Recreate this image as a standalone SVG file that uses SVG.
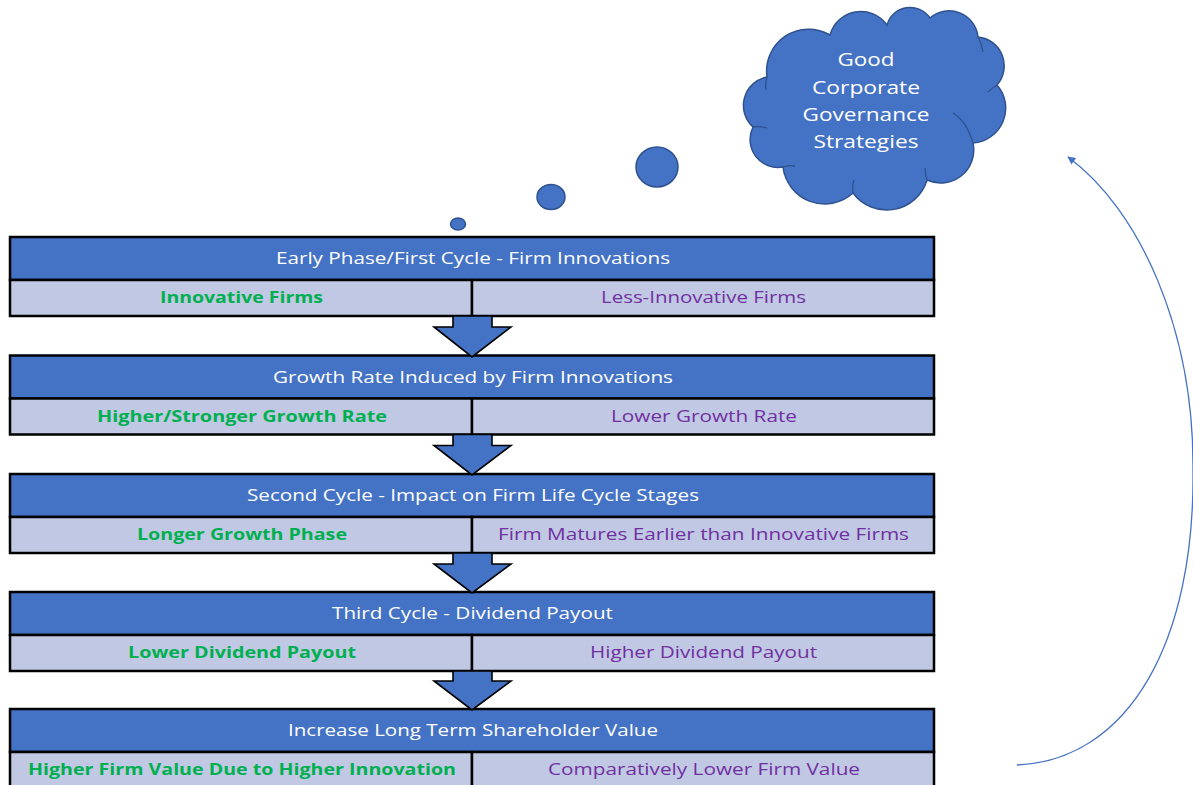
<svg xmlns="http://www.w3.org/2000/svg" width="1193" height="785" viewBox="0 0 1193 785">
  <style>
    .hdr { fill: #4472C4; stroke: #000; stroke-width: 2.5; }
    .row { fill: #C0C8E4; stroke: #000; stroke-width: 2.5; }
    text { font-family: "Open Sans", "Noto Sans", sans-serif; text-anchor: middle; }
    .ht { font-size: 17px; fill: #FFFFFF; }
    .lt { font-size: 16.5px; font-weight: bold; fill: #00B050; }
    .rt { font-size: 16.5px; fill: #7030A0; }
    .down { fill: #4472C4; stroke: #000; stroke-width: 1.6; stroke-linejoin: miter; }
    .bub { fill: #4472C4; stroke: #2F528F; stroke-width: 1.5; }
    .ct { font-size: 18.5px; fill: #FFFFFF; }
    .loop { fill: none; stroke: #4472C4; stroke-width: 1.3; }
  </style>
  <defs>
    <marker id="tip" viewBox="0 0 10 10" refX="9" refY="5" markerWidth="10" markerHeight="8" markerUnits="userSpaceOnUse" orient="auto">
      <path d="M0,0 L10,5 L0,10 z" fill="#4472C4"/>
    </marker>
  </defs>

  <!-- thought cloud and its trailing bubbles -->
  <g id="cloud">
    <path class="bub" d="M767,77 A42,42 0 0 1 830,35 A32,32 0 0 1 887,25 A24,24 0 0 1 930,18 A29,29 0 0 1 978,37 A29,29 0 0 1 997,85 A35,35 0 0 1 973,143 A33,33 0 0 1 927,180 A42,42 0 0 1 853,193 A42,42 0 0 1 783,167 A28,28 0 0 1 753,127 A29,29 0 0 1 767,77 Z"/>
    <path fill="none" stroke="#2F528F" stroke-width="1.3" d="M767,77 Q765,83 766,90 M978,37 Q982,44 983,52 M997,85 Q992,88 988,92 M953,113 Q967,122 973,143 M927,180 Q925,174 925,168 M853,193 Q852,186 854,180 M783,167 Q789,165 795,166 M753,127 Q760,126 767,128"/>
    <text class="ct" x="866" y="66" textLength="57" lengthAdjust="spacingAndGlyphs">Good</text>
    <text class="ct" x="866" y="94" textLength="108" lengthAdjust="spacingAndGlyphs">Corporate</text>
    <text class="ct" x="866" y="121" textLength="127" lengthAdjust="spacingAndGlyphs">Governance</text>
    <text class="ct" x="866" y="148" textLength="105" lengthAdjust="spacingAndGlyphs">Strategies</text>
  </g>
  <g id="bubbles">
    <ellipse class="bub" cx="657" cy="167" rx="21" ry="20"/>
    <ellipse class="bub" cx="551" cy="197" rx="14" ry="12.5"/>
    <ellipse class="bub" cx="458" cy="224" rx="7.5" ry="6"/>
  </g>

  <!-- stage 1 -->
  <g id="stage1">
    <rect class="hdr" x="10" y="237" width="924" height="43"/>
    <rect class="row" x="10" y="280" width="462" height="36"/>
    <rect class="row" x="472" y="280" width="462" height="36"/>
    <text class="ht" x="473" y="264" textLength="394" lengthAdjust="spacingAndGlyphs">Early Phase/First Cycle - Firm Innovations</text>
    <text class="lt" x="241.5" y="303" textLength="163" lengthAdjust="spacingAndGlyphs">Innovative Firms</text>
    <text class="rt" x="703.5" y="303" textLength="205" lengthAdjust="spacingAndGlyphs">Less-Innovative Firms</text>
  </g>

  <!-- stage 2 -->
  <g id="stage2">
    <rect class="hdr" x="10" y="355.5" width="924" height="43"/>
    <rect class="row" x="10" y="398.5" width="462" height="36"/>
    <rect class="row" x="472" y="398.5" width="462" height="36"/>
    <text class="ht" x="473" y="382.5" textLength="400" lengthAdjust="spacingAndGlyphs">Growth Rate Induced by Firm Innovations</text>
    <text class="lt" x="242" y="421.5" textLength="290" lengthAdjust="spacingAndGlyphs">Higher/Stronger Growth Rate</text>
    <text class="rt" x="704" y="421.5" textLength="186" lengthAdjust="spacingAndGlyphs">Lower Growth Rate</text>
  </g>

  <!-- stage 3 -->
  <g id="stage3">
    <rect class="hdr" x="10" y="474" width="924" height="43"/>
    <rect class="row" x="10" y="517" width="462" height="36"/>
    <rect class="row" x="472" y="517" width="462" height="36"/>
    <text class="ht" x="473" y="501" textLength="452" lengthAdjust="spacingAndGlyphs">Second Cycle - Impact on Firm Life Cycle Stages</text>
    <text class="lt" x="242" y="540" textLength="210" lengthAdjust="spacingAndGlyphs">Longer Growth Phase</text>
    <text class="rt" x="703.5" y="540" textLength="411" lengthAdjust="spacingAndGlyphs">Firm Matures Earlier than Innovative Firms</text>
  </g>

  <!-- stage 4 -->
  <g id="stage4">
    <rect class="hdr" x="10" y="592" width="924" height="43"/>
    <rect class="row" x="10" y="635" width="462" height="36"/>
    <rect class="row" x="472" y="635" width="462" height="36"/>
    <text class="ht" x="472.5" y="619" textLength="281" lengthAdjust="spacingAndGlyphs">Third Cycle - Dividend Payout</text>
    <text class="lt" x="242" y="658" textLength="228" lengthAdjust="spacingAndGlyphs">Lower Dividend Payout</text>
    <text class="rt" x="703.5" y="658" textLength="227" lengthAdjust="spacingAndGlyphs">Higher Dividend Payout</text>
  </g>

  <!-- stage 5 -->
  <g id="stage5">
    <rect class="hdr" x="10" y="709" width="924" height="43"/>
    <rect class="row" x="10" y="752" width="462" height="36"/>
    <rect class="row" x="472" y="752" width="462" height="36"/>
    <text class="ht" x="473" y="736" textLength="370" lengthAdjust="spacingAndGlyphs">Increase Long Term Shareholder Value</text>
    <text class="lt" x="242" y="775" textLength="428" lengthAdjust="spacingAndGlyphs">Higher Firm Value Due to Higher Innovation</text>
    <text class="rt" x="704" y="775" textLength="312" lengthAdjust="spacingAndGlyphs">Comparatively Lower Firm Value</text>
  </g>

  <!-- block arrows between stages and the feedback loop -->
  <g id="connectors">
    <path class="down" d="M453,316 L492,316 L492,327 L511,327 L472,357 L434,327 L453,327 Z"/>
    <path class="down" d="M453,434.5 L492,434.5 L492,445.5 L511,445.5 L472,475 L434,445.5 L453,445.5 Z"/>
    <path class="down" d="M453,553 L492,553 L492,564 L511,564 L472,593 L434,564 L453,564 Z"/>
    <path class="down" d="M453,671 L492,671 L492,681 L511,681 L472,710 L434,681 L453,681 Z"/>
    <path class="loop" marker-end="url(#tip)" d="M1017,765 C1130,760 1195,640 1193,470 C1194,330 1140,210 1068,157"/>
  </g>
</svg>
